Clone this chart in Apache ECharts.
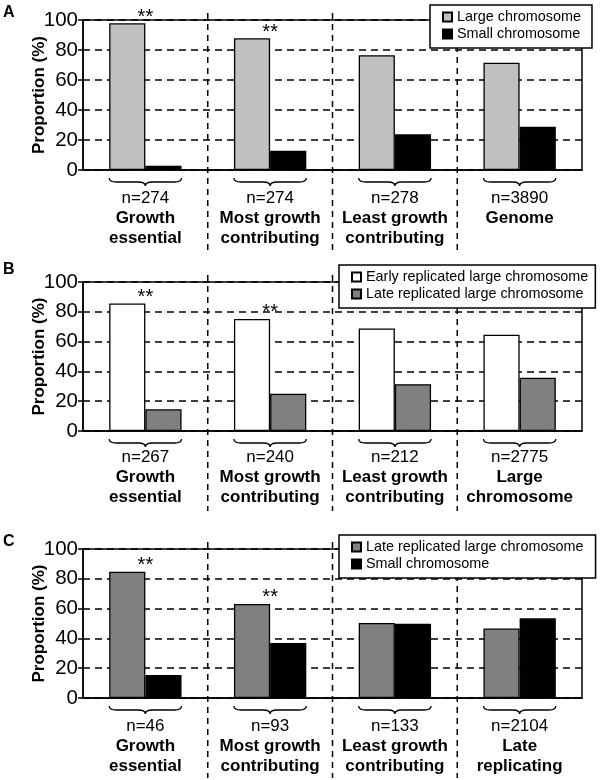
<!DOCTYPE html>
<html><head><meta charset="utf-8">
<script src="https://cdn.jsdelivr.net/npm/echarts@6/dist/echarts.min.js"></script>
<style>html,body{margin:0;padding:0;background:#fff}#c{width:600px;height:780px}</style>
</head><body><div id="c"></div>
<script>
const FONT = '"Liberation Sans", Arial, sans-serif';

// ---------- Panel A ----------
const catsA = ['Growth\nessential', 'Most growth\ncontributing', 'Least growth\ncontributing', 'Genome'];
const nA = [274, 274, 278, 3890];
const namesA = ['Large chromosome', 'Small chromosome'];
const largeA = [97.8, 87.8, 76.5, 71.5];
const smallA = [2.8, 12.8, 23.8, 28.8];
const sigA = [true, true, false, false];

// ---------- Panel B ----------
const catsB = ['Growth\nessential', 'Most growth\ncontributing', 'Least growth\ncontributing', 'Large\nchromosome'];
const nB = [267, 240, 212, 2775];
const namesB = ['Early replicated large chromosome', 'Late replicated large chromosome'];
const earlyB = [85.6, 75.2, 68.8, 64.6];
const lateB = [14.6, 25.0, 31.4, 35.8];
const sigB = [true, true, false, false];

// ---------- Panel C ----------
const catsC = ['Growth\nessential', 'Most growth\ncontributing', 'Least growth\ncontributing', 'Late\nreplicating'];
const nC = [46, 93, 133, 2104];
const namesC = ['Late replicated large chromosome', 'Small chromosome'];
const lateC = [84.8, 63.1, 50.4, 46.6];
const smallC = [15.4, 36.9, 49.8, 53.5];
const sigC = [true, true, false, false];

const yTicks = { min: 0, max: 100, interval: 20 };

const panels = [
  { letter: 'A', cats: catsA, n: nA, names: namesA, s1: largeA, s2: smallA, sig: sigA,
    c1: '#c0c0c0', c2: '#000000', top: 20, height: 150, letterTop: 5, labelMargin: 18,
    legend: { left: 430, top: 5, padding: [4, 11, 6, 12] } },
  { letter: 'B', cats: catsB, n: nB, names: namesB, s1: earlyB, s2: lateB, sig: sigB,
    c1: '#ffffff', c2: '#808080', top: 282, height: 149, letterTop: 262, labelMargin: 16,
    legend: { left: 339, top: 265, padding: [4, 7, 6, 12] } },
  { letter: 'C', cats: catsC, n: nC, names: namesC, s1: lateC, s2: smallC, sig: sigC,
    c1: '#808080', c2: '#000000', top: 549, height: 149, letterTop: 534, labelMargin: 18,
    legend: { left: 339, top: 535, padding: [4, 12, 6, 12] } }
];

const GRID_LEFT = 83, GRID_W = 499, CAT_GAP = 0.42;

const option = {
  animation: false,
  backgroundColor: '#fff',
  textStyle: { fontFamily: FONT, color: '#000' },
  title: [], grid: [], xAxis: [], yAxis: [], series: [], legend: []
};

panels.forEach((p, i) => {
  option.title.push({ text: p.letter, left: 3, top: p.letterTop, padding: 0,
    textStyle: { fontSize: 16, fontWeight: 'bold', fontFamily: FONT, color: '#000' } });
  option.grid.push({ left: GRID_LEFT, top: p.top, width: GRID_W, height: p.height,
    show: true, borderColor: '#000', borderWidth: 1.5, backgroundColor: 'transparent' });
  option.xAxis.push({
    type: 'category', gridIndex: i, data: p.cats,
    axisLine: { lineStyle: { color: '#000', width: 1.5 } },
    axisTick: { show: false },
    splitLine: { show: false },
    axisLabel: {
      interval: 0, margin: p.labelMargin, color: '#000',
      formatter: (v, idx) => '{n|n=' + p.n[idx] + '}\n' + v.split('\n').map(s => '{b|' + s + '}').join('\n'),
      rich: {
        n: { fontSize: 17, fontFamily: FONT, color: '#000', lineHeight: 20 },
        b: { fontSize: 17, fontFamily: FONT, fontWeight: 'bold', color: '#000', lineHeight: 20 }
      }
    }
  });
  option.yAxis.push({
    type: 'value', gridIndex: i, min: yTicks.min, max: yTicks.max, interval: yTicks.interval,
    axisLine: { show: true, lineStyle: { color: '#000', width: 1.5 } },
    axisTick: { show: true, length: 5, lineStyle: { color: '#000', width: 1.5 } },
    axisLabel: { fontSize: 20.5, fontFamily: FONT, color: '#000', margin: 5 },
    splitLine: { show: true, lineStyle: { color: '#000', width: 1.5, type: [7, 5] } },
    name: 'Proportion (%)', nameLocation: 'middle', nameGap: 35, nameRotate: 90,
    nameMoveOverlap: false,
    nameTextStyle: { fontSize: 17, fontWeight: 'bold', fontFamily: FONT, color: '#000' }
  });
  const band = GRID_W / p.cats.length;
  const barW = band * (1 - CAT_GAP) / 2;
  option.series.push({
    type: 'bar', name: p.names[0], xAxisIndex: i, yAxisIndex: i, data: p.s1,
    barGap: '0%', barCategoryGap: (CAT_GAP * 100) + '%',
    itemStyle: { color: p.c1, borderColor: '#000', borderWidth: 1.3 },
    label: { show: true, position: 'top', distance: 0, offset: [barW / 2, 4],
      formatter: (prm) => p.sig[prm.dataIndex] ? '**' : '',
      fontSize: 20, fontFamily: FONT, color: '#000' }
  });
  option.series.push({
    type: 'bar', name: p.names[1], xAxisIndex: i, yAxisIndex: i, data: p.s2,
    barGap: '0%', barCategoryGap: (CAT_GAP * 100) + '%',
    itemStyle: { color: p.c2, borderColor: '#000', borderWidth: 1.3 }
  });
  // braces under each category
  option.series.push({
    type: 'custom', xAxisIndex: i, yAxisIndex: i, silent: true, clip: false,
    data: p.cats.map((c, k) => [k, 0]),
    renderItem: (params, api) => {
      const c = api.coord([api.value(0), 0]);
      const bw = api.size([1, 0])[0];
      const half = bw * (1 - CAT_GAP) / 2;
      const x0 = c[0] - half, x1 = c[0] + half, cx = c[0];
      const y = c[1] + 8, h = 8, m = y + h / 2, r = 7;
      const d = `M${x0} ${y} Q${x0} ${m} ${x0 + r} ${m} L${cx - r} ${m} Q${cx} ${m} ${cx} ${y + h} ` +
                `Q${cx} ${m} ${cx + r} ${m} L${x1 - r} ${m} Q${x1} ${m} ${x1} ${y}`;
      return { type: 'path', shape: { pathData: d }, style: { stroke: '#000', fill: 'none', lineWidth: 1.3 } };
    }
  });
  // vertical dashed separators between categories
  option.series.push({
    type: 'custom', xAxisIndex: i, yAxisIndex: i, silent: true, clip: false,
    data: p.cats.slice(0, -1).map((c, k) => [k, 0]),
    renderItem: (params, api) => {
      const c = api.coord([api.value(0), 0]);
      const topY = api.coord([api.value(0), yTicks.max])[1];
      const bw = api.size([1, 0])[0];
      const x = c[0] + bw / 2;
      return { type: 'line', shape: { x1: x, y1: topY - 7, x2: x, y2: c[1] + 80 },
        style: { stroke: '#000', lineWidth: 1.5, lineDash: [6, 5] } };
    }
  });
  option.legend.push({
    left: p.legend.left, top: p.legend.top, orient: 'vertical', data: p.names,
    icon: 'rect', itemWidth: 9, itemHeight: 9, itemGap: 1,
    selectedMode: false,
    textStyle: { fontSize: 14.4, fontFamily: FONT, color: '#000', lineHeight: 16 },
    backgroundColor: '#fff', borderColor: '#000', borderWidth: 1.5,
    padding: p.legend.padding
  });
});

const chart = echarts.init(document.getElementById('c'), null, { renderer: 'canvas' });
chart.setOption(option);
</script>
</body></html>
